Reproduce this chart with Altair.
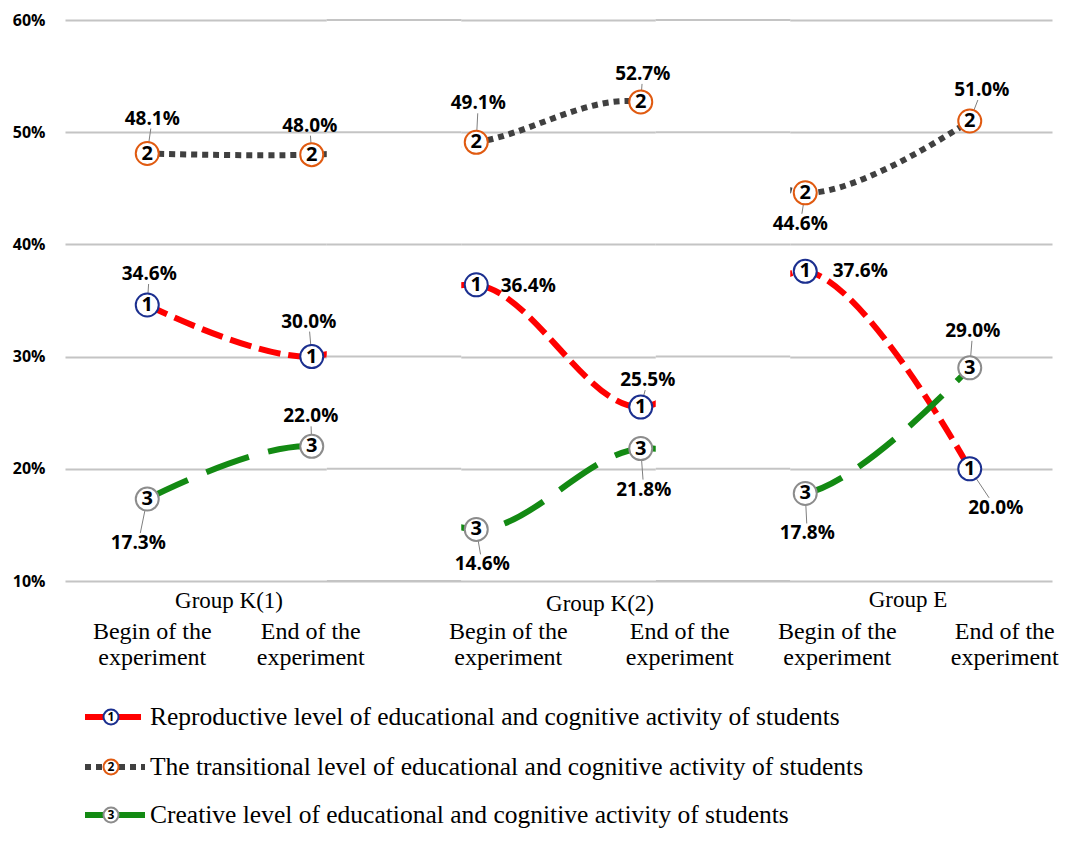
import altair as alt
import pandas as pd

# ---------------- data ----------------
GROUPS = ["Group K(1)", "Group K(2)", "Group E"]
STAGE_LINES = [["Begin of the", "experiment"], ["End of the", "experiment"]]
SERIES = [
    "Reproductive level of educational and cognitive activity of students",
    "The transitional level of educational and cognitive activity of students",
    "Creative level of educational and cognitive activity of students",
]
MARKER_NUMBERS = ["1", "2", "3"]
REPRODUCTIVE = [34.6, 30.0, 36.4, 25.5, 37.6, 20.0]
TRANSITIONAL = [48.1, 48.0, 49.1, 52.7, 44.6, 51.0]
CREATIVE = [17.3, 22.0, 14.6, 21.8, 17.8, 29.0]
Y_TICKS = [10, 20, 30, 40, 50, 60]

# ---------------- styles ----------------
LINE_COLORS = ["#ff0000", "#404040", "#138a13"]
MARKER_COLORS = ["#1b2f8f", "#e05a10", "#8c8c8c"]
DASHES = [[22, 8], [6, 5], [45, 20]]
GRID_COLOR = "#c4c4c4"
SANS = "Open Sans"
SERIF = "Liberation Serif"

# ---------------- layout (pixels) ----------------
W, H = 987, 561
ORIGIN_X, ORIGIN_Y = 65, 20          # page position of plot area
N_POINTS = 6
PX_X = W / N_POINTS                  # pixels per x unit
PX_Y = H / (Y_TICKS[-1] - Y_TICKS[0])  # pixels per y unit
LABEL_DX = [[2, -3, 52, 7, 55, 26], [5, -2, 2, 2, -5, 12], [-9, -1, 6, 3, 2, 3]]
LABEL_DY = [[-31, -35, 1, -27, 0, 39], [-35, -29, -39, -28, 31, -31], [44, -30, 35, 41, 40, -37]]
STAGE_DX = [5, -1, 32, 39, 32, 35]
STAGE_LINE_Y = [632, 658]
GROUP_X = [229, 600, 908]
GROUP_Y = [601, 604, 600]
MASK_MARGIN = 15
LEG_Y = [717, 767, 815]
LEG_SEGS = [(85, 103), (119, 145)]
LEG_CIRCLE_X = 111
LEG_TEXT_X = 150


def px2x(px):
    return (px - ORIGIN_X) / PX_X - 0.5


def px2y(py):
    return Y_TICKS[-1] - (py - ORIGIN_Y) / PX_Y


XS = alt.Scale(domain=[-0.5, N_POINTS - 0.5], nice=False, zero=False)
YS = alt.Scale(domain=[Y_TICKS[0], Y_TICKS[-1]], nice=False, zero=False)
YAXIS = alt.Axis(values=Y_TICKS, labelExpr="datum.value + '%'", title=None, domain=False,
                 ticks=False, grid=True, gridColor=GRID_COLOR, gridWidth=2,
                 labelFont=SANS, labelFontSize=16, labelFontWeight="bold", labelColor="black",
                 labelPadding=20)


def X(f):
    return alt.X(f"{f}:Q", scale=XS, axis=None)


def Y(f):
    return alt.Y(f"{f}:Q", scale=YS, axis=YAXIS)


COLOR = alt.Color("series:N", scale=alt.Scale(domain=SERIES, range=LINE_COLORS), legend=None)
DASH = alt.StrokeDash("series:N", scale=alt.Scale(domain=SERIES, range=DASHES), legend=None)
MSTROKE = alt.Stroke("series:N", scale=alt.Scale(domain=SERIES, range=MARKER_COLORS), legend=None)

# ---------------- tables ----------------
rows = []
for s, (name, vals) in enumerate(zip(SERIES, [REPRODUCTIVE, TRANSITIONAL, CREATIVE])):
    for i, v in enumerate(vals):
        dx, dy = LABEL_DX[s][i], LABEL_DY[s][i]
        f = (abs(dy) - 10) / abs(dy) if abs(dy) >= 20 else 0
        rows.append(dict(series=name, num=MARKER_NUMBERS[s], idx=i, value=v,
                         label=f"{v:.1f}%",
                         lx=i + dx / PX_X, ly=v - dy / PX_Y,
                         ex=i + dx * f / PX_X, ey=v - dy * f / PX_Y,
                         leader=abs(dy) >= 20))
pts = pd.DataFrame(rows)

gaps = []
for g in range(len(GROUPS) - 1):
    a, b = 2 * g + 1, 2 * g + 2
    gaps.append(dict(x=a + MASK_MARGIN / PX_X, x2=b - MASK_MARGIN / PX_X,
                     y=Y_TICKS[0], y2=Y_TICKS[-1]))
gaps = pd.DataFrame(gaps)
gapgrid = pd.DataFrame([dict(x=r.x, x2=r.x2, y=t) for r in gaps.itertuples() for t in Y_TICKS])

cat_rows = []
for g, gname in enumerate(GROUPS):
    cat_rows.append(dict(text=gname, x=px2x(GROUP_X[g]), y=px2y(GROUP_Y[g]), kind="group"))
    for st in range(2):
        i = 2 * g + st
        for li, line in enumerate(STAGE_LINES[st]):
            cat_rows.append(dict(text=line, x=i + STAGE_DX[i] / PX_X,
                                 y=px2y(STAGE_LINE_Y[li]), kind="stage"))
cats = pd.DataFrame(cat_rows)

leg_rows, leg_seg = [], []
for s, name in enumerate(SERIES):
    leg_rows.append(dict(series=name, num=MARKER_NUMBERS[s], y=px2y(LEG_Y[s]),
                         cx=px2x(LEG_CIRCLE_X), tx=px2x(LEG_TEXT_X)))
    for a, b in LEG_SEGS:
        leg_seg.append(dict(series=name, x=px2x(a), x2=px2x(b), y=px2y(LEG_Y[s])))
leg = pd.DataFrame(leg_rows)
legseg = pd.DataFrame(leg_seg)

# ---------------- layers ----------------
lines = alt.Chart(pts).mark_line(interpolate="catmull-rom", strokeWidth=6, strokeCap="butt").encode(
    x=X("idx"), y=Y("value"), color=COLOR, strokeDash=DASH, detail="series:N", order="idx:Q")

mask = alt.Chart(gaps).mark_rect(color="white").encode(
    x=X("x"), x2="x2", y=Y("y"), y2="y2")

grid_fix = alt.Chart(gapgrid).mark_rule(color=GRID_COLOR, strokeWidth=2).encode(
    x=X("x"), x2="x2", y=Y("y"))

leaders = alt.Chart(pts).transform_filter("datum.leader").mark_rule(
    color="#7f7f7f", strokeWidth=1).encode(x=X("idx"), y=Y("value"), x2="ex", y2="ey")

markers = alt.Chart(pts).mark_point(shape="circle", filled=True, fill="white", size=529,
                                    strokeWidth=2, opacity=1).encode(
    x=X("idx"), y=Y("value"), stroke=MSTROKE)

numbers = alt.Chart(pts).mark_text(font=SANS, fontWeight="bold", fontSize=20, color="black",
                                   align="center", baseline="middle").encode(
    x=X("idx"), y=Y("value"), text="num:N")

labels = alt.Chart(pts).mark_text(font=SANS, fontWeight="bold", fontSize=19, color="black",
                                  align="center", baseline="middle").encode(
    x=X("lx"), y=Y("ly"), text="label:N")

stage_text = alt.Chart(cats).transform_filter("datum.kind == 'stage'").mark_text(
    font=SERIF, fontSize=24, color="black", align="center", baseline="middle").encode(
    x=X("x"), y=Y("y"), text="text:N")

group_text = alt.Chart(cats).transform_filter("datum.kind == 'group'").mark_text(
    font=SERIF, fontSize=23, color="black", align="center", baseline="middle").encode(
    x=X("x"), y=Y("y"), text="text:N")

leg_lines = alt.Chart(legseg).mark_rule(strokeWidth=6, strokeCap="butt").encode(
    x=X("x"), x2="x2", y=Y("y"), color=COLOR, strokeDash=DASH)

leg_circles = alt.Chart(leg).mark_point(shape="circle", filled=True, fill="white", size=225,
                                        strokeWidth=2, opacity=1).encode(
    x=X("cx"), y=Y("y"), stroke=MSTROKE)

leg_nums = alt.Chart(leg).mark_text(font=SANS, fontWeight="bold", fontSize=12, color="black",
                                    align="center", baseline="middle").encode(
    x=X("cx"), y=Y("y"), text="num:N")

leg_text = alt.Chart(leg).mark_text(font=SERIF, fontSize=25.5, color="black", align="left",
                                    baseline="middle").encode(
    x=X("tx"), y=Y("y"), text="series:N")

chart = alt.layer(
    lines, mask, grid_fix, leaders, markers, numbers, labels, stage_text, group_text,
    leg_lines, leg_circles, leg_nums, leg_text,
).properties(
    width=W, height=H,
    autosize=alt.AutoSizeParams(type="none"),
    padding={"left": 57, "top": 12, "right": 8, "bottom": 252},
    background="white",
).configure_view(stroke=None)

chart.save("out.html", embed_options={"renderer": "svg", "actions": False})
